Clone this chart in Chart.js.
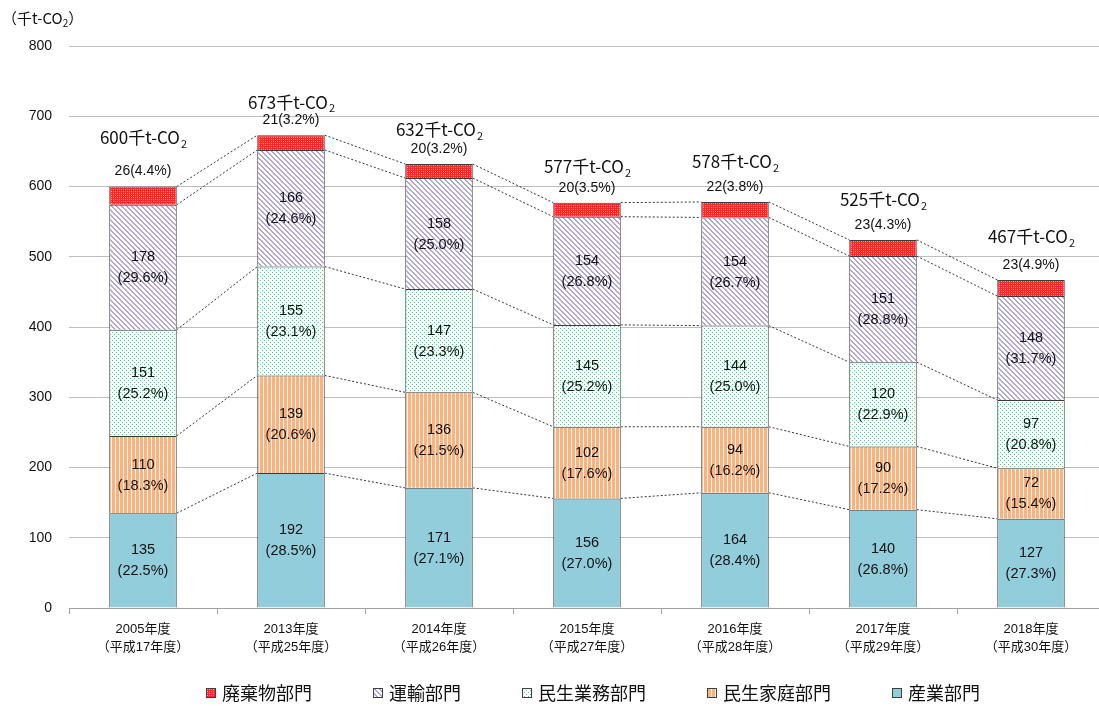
<!DOCTYPE html>
<html>
<head>
<meta charset="utf-8">
<script src="https://cdn.jsdelivr.net/npm/chart.js@4.4.0/dist/chart.umd.min.js"></script>
<style>
  html, body { margin: 0; padding: 0; background: #fff; overflow: hidden; }
  #wrap { position: relative; width: 1105px; height: 706px; }
</style>
</head>
<body>
<div id="wrap"><canvas id="co2Chart" width="1105" height="706"></canvas></div>
<script>
// 年度ラベル
const years = [
  ['2005年度', '（平成17年度）'],
  ['2013年度', '（平成25年度）'],
  ['2014年度', '（平成26年度）'],
  ['2015年度', '（平成27年度）'],
  ['2016年度', '（平成28年度）'],
  ['2017年度', '（平成29年度）'],
  ['2018年度', '（平成30年度）']
];

// 部門別排出量（千t-CO2）
const industry   = [135, 192, 171, 156, 164, 140, 127];
const household  = [110, 139, 136, 102, 94, 90, 72];
const commercial = [151, 155, 147, 145, 144, 120, 97];
const transport  = [178, 166, 158, 154, 154, 151, 148];
const waste      = [26, 21, 20, 20, 22, 23, 23];

// 構成比（%）
const industryPct   = [22.5, 28.5, 27.1, 27.0, 28.4, 26.8, 27.3];
const householdPct  = [18.3, 20.6, 21.5, 17.6, 16.2, 17.2, 15.4];
const commercialPct = [25.2, 23.1, 23.3, 25.2, 25.0, 22.9, 20.8];
const transportPct  = [29.6, 24.6, 25.0, 26.8, 26.7, 28.8, 31.7];
const wastePct      = [4.4, 3.2, 3.2, 3.5, 3.8, 4.3, 4.9];

// 合計
const totals = [600, 673, 632, 577, 578, 525, 467];

const yTicks = [0, 100, 200, 300, 400, 500, 600, 700, 800];

// 合計ラベルの棒上端からの距離（px）
const totalOffsets = [49, 33, 34, 36, 40, 40, 43];

// --- hatch patterns ---
function makePattern(w, h, draw) {
  const c = document.createElement('canvas');
  c.width = w; c.height = h;
  const g = c.getContext('2d');
  draw(g);
  return g.createPattern(c, 'repeat');
}

const wastePattern = makePattern(4, 4, g => {
  g.fillStyle = '#ff2626';
  g.fillRect(0, 0, 4, 4);
  g.fillStyle = '#ffb4b4';
  g.fillRect(1, 1, 1, 1);
  g.fillRect(3, 3, 1, 1);
  g.fillStyle = '#ff7c7c';
  g.fillRect(1, 3, 1, 1);
  g.fillRect(3, 1, 1, 1);
});

const transportPattern = makePattern(5, 5, g => {
  g.fillStyle = '#ffffff';
  g.fillRect(0, 0, 5, 5);
  g.fillStyle = '#b0a3d6';
  for (let y = 0; y < 5; y++) {
    for (let x = 0; x < 5; x++) {
      const d = ((x - y) % 5 + 5) % 5;
      if (d < 2) g.fillRect(x, y, 1, 1);
    }
  }
});

const commercialPattern = makePattern(4, 4, g => {
  g.fillStyle = '#ffffff';
  g.fillRect(0, 0, 4, 4);
  g.fillStyle = '#4ccb85';
  g.fillRect(0, 0, 1, 1);
  g.fillRect(2, 2, 1, 1);
});

const householdPattern = makePattern(4, 1, g => {
  g.fillStyle = '#ffffff';
  g.fillRect(0, 0, 4, 1);
  g.fillStyle = '#fdb27b';
  g.fillRect(0, 0, 3, 1);
});

const industryColor = '#92cddc';

// --- plugin: labels, connectors, legend, axis title ---
const decorPlugin = {
  id: 'decor',
  afterDatasetsDraw(chart) {
    const ctx = chart.ctx;
    const metas = chart.data.datasets.map((d, i) => chart.getDatasetMeta(i));
    const n = chart.data.labels.length;

    // dotted connectors
    ctx.save();
    ctx.strokeStyle = '#333';
    ctx.lineWidth = 1;
    ctx.setLineDash([2, 2]);
    metas.forEach(meta => {
      for (let j = 0; j < n - 1; j++) {
        const a = meta.data[j], b = meta.data[j + 1];
        ctx.beginPath();
        ctx.moveTo(a.x + a.width / 2, a.y);
        ctx.lineTo(b.x - b.width / 2, b.y);
        ctx.stroke();
      }
    });
    ctx.restore();

    // values inside segments
    const pcts = [industryPct, householdPct, commercialPct, transportPct];
    ctx.save();
    ctx.fillStyle = '#111';
    ctx.textAlign = 'center';
    ctx.textBaseline = 'middle';
    ctx.font = '14.5px "Liberation Sans", Arial, sans-serif';
    for (let i = 0; i < 4; i++) {
      const ds = chart.data.datasets[i];
      metas[i].data.forEach((bar, j) => {
        const cy = (bar.y + bar.base) / 2;
        ctx.fillText(String(ds.data[j]), bar.x, cy - 10);
        ctx.fillText('(' + pcts[i][j].toFixed(1) + '%)', bar.x, cy + 11);
      });
    }
    // waste labels above bars
    ctx.font = '14px "Liberation Sans", Arial, sans-serif';
    metas[4].data.forEach((bar, j) => {
      ctx.fillText(waste[j] + '(' + wastePct[j].toFixed(1) + '%)', bar.x, bar.y - 15);
    });

    // totals
    metas[4].data.forEach((bar, j) => {
      const main = totals[j] + '千t-CO';
      ctx.font = '17px "Noto Sans CJK JP", sans-serif';
      const w1 = ctx.measureText(main).width;
      ctx.font = '11px "Noto Sans CJK JP", sans-serif';
      const w2 = ctx.measureText('2').width;
      const x0 = bar.x - (w1 + w2) / 2;
      const cy = bar.y - totalOffsets[j];
      ctx.textAlign = 'left';
      ctx.font = '17px "Noto Sans CJK JP", sans-serif';
      ctx.fillText(main, x0, cy);
      ctx.font = '11px "Noto Sans CJK JP", sans-serif';
      ctx.fillText('2', x0 + w1 + 1, cy + 6);
      ctx.textAlign = 'center';
    });
    ctx.restore();
  },
  afterDraw(chart) {
    const ctx = chart.ctx;
    ctx.save();
    // axis unit title
    ctx.fillStyle = '#111';
    ctx.textBaseline = 'middle';
    ctx.textAlign = 'left';
    ctx.font = '15px "Noto Sans CJK JP", sans-serif';
    const t1 = '（千t-CO';
    ctx.fillText(t1, 2, 18);
    let x = 2 + ctx.measureText(t1).width;
    ctx.font = '10px "Noto Sans CJK JP", sans-serif';
    ctx.fillText('2', x, 23);
    x += ctx.measureText('2').width;
    ctx.font = '15px "Noto Sans CJK JP", sans-serif';
    ctx.fillText('）', x, 18);

    // legend (reverse order)
    const items = chart.data.datasets.slice().reverse();
    let lx = 206;
    const ly = 693;
    ctx.font = '18px "Noto Sans CJK JP", sans-serif';
    items.forEach(ds => {
      ctx.fillStyle = ds.backgroundColor;
      ctx.fillRect(lx, ly - 5, 10, 10);
      ctx.strokeStyle = '#404040';
      ctx.lineWidth = 1;
      ctx.strokeRect(lx + 0.5, ly - 4.5, 9, 9);
      ctx.fillStyle = '#111';
      ctx.fillText(ds.label, lx + 16, ly);
      lx += 16 + ctx.measureText(ds.label).width + 61;
    });
    ctx.restore();
  }
};

const barStyle = {
  borderColor: '#3a3a3a',
  borderWidth: { top: 1, left: 1, right: 1, bottom: 0 },
  borderSkipped: false,
  categoryPercentage: 1.0,
  barPercentage: 0.456
};

new Chart(document.getElementById('co2Chart'), {
  type: 'bar',
  data: {
    labels: years,
    datasets: [
      { label: '産業部門', data: industry, backgroundColor: industryColor, ...barStyle },
      { label: '民生家庭部門', data: household, backgroundColor: householdPattern, ...barStyle },
      { label: '民生業務部門', data: commercial, backgroundColor: commercialPattern, ...barStyle },
      { label: '運輸部門', data: transport, backgroundColor: transportPattern, ...barStyle },
      { label: '廃棄物部門', data: waste, backgroundColor: wastePattern, ...barStyle }
    ]
  },
  options: {
    responsive: false,
    animation: false,
    layout: { padding: { top: 46, right: 0, bottom: 0, left: 0 } },
    plugins: {
      legend: { display: false },
      tooltip: { enabled: false }
    },
    scales: {
      x: {
        stacked: true,
        afterFit: scale => { scale.height = 98; },
        grid: {
          display: true,
          drawOnChartArea: false,
          drawTicks: true,
          tickLength: 6,
          color: '#a0a0a0'
        },
        border: { display: true, color: '#a0a0a0' },
        ticks: {
          color: '#111',
          padding: 6,
          maxRotation: 0,
          font: { family: '"Liberation Sans", "Noto Sans CJK JP", sans-serif', size: 13, lineHeight: '18px' }
        }
      },
      y: {
        stacked: true,
        min: 0,
        max: 800,
        afterFit: scale => { scale.width = 69; },
        afterBuildTicks: scale => { scale.ticks = yTicks.map(v => ({ value: v })); },
        grid: { color: '#bdbdbd', drawTicks: false },
        border: { display: false },
        ticks: {
          color: '#111',
          padding: 17,
          font: { family: '"Liberation Sans", Arial, sans-serif', size: 14 }
        }
      }
    }
  },
  plugins: [decorPlugin]
});
</script>
</body>
</html>
